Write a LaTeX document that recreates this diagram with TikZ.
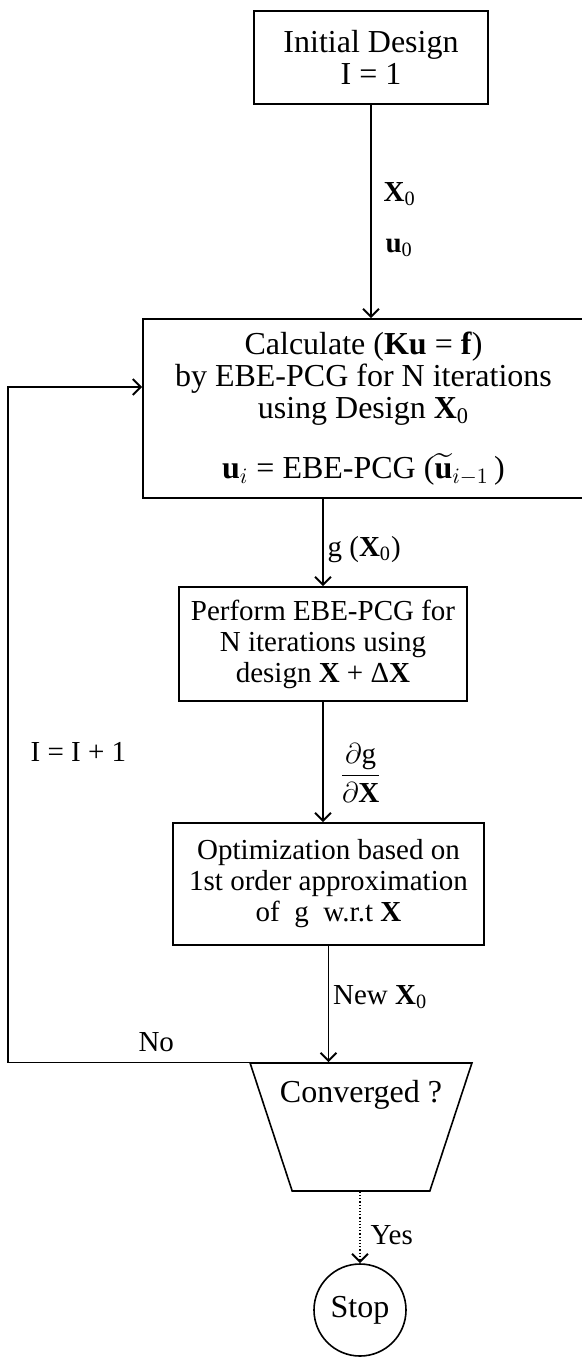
\documentclass[tikz,border=0pt]{standalone}
\usepackage{amsmath}
\usepackage{fontspec}
\setmainfont{Liberation Serif}
\usepackage{tikz}
\usetikzlibrary{positioning,shapes.geometric,arrows.meta,calc}

\tikzset{
    block/.style={draw, line width=0.8pt, align=center, inner sep=2pt, font=\fontsize{14.5}{15.5}\selectfont},
    bigblock/.style={block, font=\fontsize{16}{16}\selectfont},
    lbl/.style={font=\fontsize{14.5}{15.5}\selectfont, inner sep=2pt},
    flow/.style={line width=0.6pt, -{Straight Barb[length=4pt,width=8pt,line width=1pt]}}
}

\begin{document}
\begin{tikzpicture}[x=0.5pt,y=-0.5pt]
    \useasboundingbox (0,0) rectangle (582,1359);

    \node[bigblock, minimum width=117pt, minimum height=46.5pt] (init) at (371,57.5) {Initial Design\\I = 1};
    \node[bigblock, minimum width=220.5pt, minimum height=89.5pt] (calc) at (363.5,408.5)
        {Calculate (\textbf{Ku} = \textbf{f})\\by EBE-PCG for N iterations\\using Design \textbf{X}\textsubscript{0}\\[14pt]\textbf{u}$_i$ = EBE-PCG ($\widetilde{\mathbf{u}}_{i-1}$\,)};
    \node[block, minimum width=144pt, minimum height=57pt] (perf) at (323,644)
        {Perform EBE-PCG for\\N iterations using\\design \textbf{X} + Δ\textbf{X}};
    \node[block, minimum width=155.5pt, minimum height=61pt] (opt) at (328.5,884)
        {Optimization based on\\1st order approximation\\of\ \ g\ \ w.r.t \textbf{X}};
    \node[draw, line width=0.8pt, trapezium, shape border rotate=180, trapezium angle=73,
        trapezium stretches=true, minimum width=111pt, minimum height=64pt] (conv) at (361,1127) {};
    \node[lbl, font=\fontsize{16}{16}\selectfont] (convtxt) at (361,1095) {Converged ?};
    \node[draw, circle, line width=0.8pt, minimum size=46pt, lbl, font=\fontsize{16}{16}\selectfont] (stop) at (360,1310) {Stop};

    \coordinate (back) at (8,387);

    \draw[flow] (init.south) -- (init.south |- calc.north)
        node[lbl, pos=0.42, right=4pt] {\textbf{X}\textsubscript{0}}
        node[lbl, pos=0.67, right=5pt] {\textbf{u}\textsubscript{0}};
    \draw[flow] (calc.south -| perf.north) -- (perf.north)
        node[lbl, pos=0.58, right] {g (\textbf{X}\textsubscript{0})};
    \draw[flow] (perf.south) -- (perf.south |- opt.north)
        node[lbl, pos=0.59, right=6pt] {$\dfrac{\partial\mathrm{g}}{\partial\mathbf{X}}$};
    \draw[flow] (opt.south) -- (opt.south |- conv.north)
        node[lbl, pos=0.44, right] {New \textbf{X}\textsubscript{0}};
    \draw[flow, densely dotted] (stop.north |- conv.south) -- (stop.north)
        node[lbl, pos=0.6, right=3pt] {Yes};
    \draw[flow] (conv.north) -- (conv.north -| back)
        node[lbl, pos=0.58, above=3pt] {No}
        -- (back) node[lbl, pos=0.46, right=9pt] {I = I + 1}
        -- (back -| calc.west);
\end{tikzpicture}
\end{document}
